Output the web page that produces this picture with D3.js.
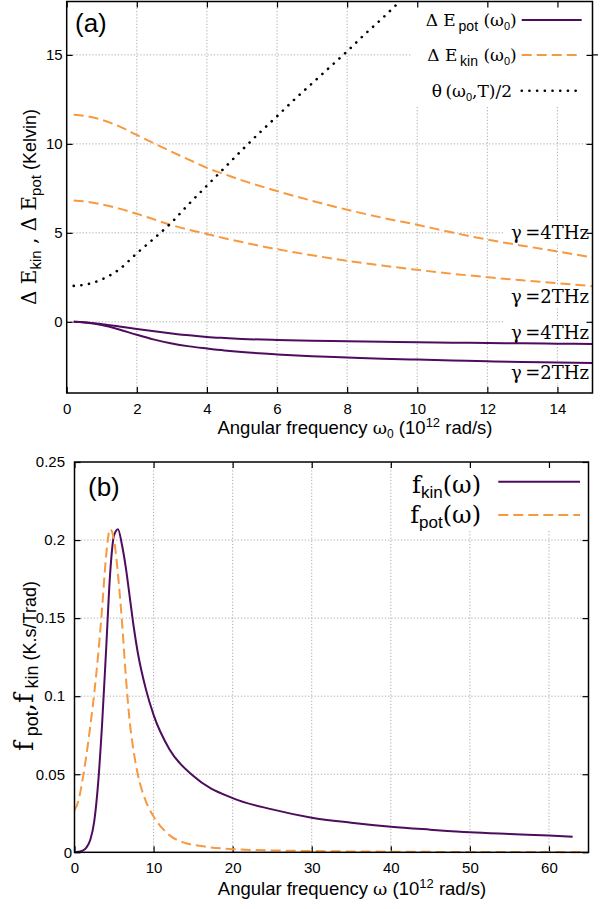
<!DOCTYPE html>
<html><head><meta charset="utf-8">
<script src="https://cdn.jsdelivr.net/npm/d3@7"></script>
<style>body{margin:0;background:#fff}svg{display:block}</style>
</head><body>
<svg id="c" width="608" height="909"></svg>
<script>
// ---------- DATA ----------
// Panel (a)
const omega0 = [0.2,0.5,1,1.5,2,2.5,3,3.5,4,4.5,5,6,7,8,9,10,11,12,13,14,15];
const dEkin4 = [11.63,11.58,11.35,10.98,10.5,10.02,9.55,9.1,8.65,8.3,7.95,7.35,6.8,6.3,5.85,5.45,5.02,4.62,4.28,3.95,3.62];
const dEkin2 = [6.82,6.77,6.6,6.36,6.07,5.75,5.43,5.17,4.94,4.7,4.48,4.08,3.74,3.43,3.16,2.92,2.7,2.51,2.33,2.17,2.0];
const dEpot4 = [0,-0.03,-0.13,-0.26,-0.4,-0.53,-0.65,-0.76,-0.85,-0.91,-0.96,-1.02,-1.06,-1.09,-1.12,-1.15,-1.17,-1.19,-1.21,-1.23,-1.24];
const dEpot2 = [0,-0.04,-0.18,-0.43,-0.73,-1.0,-1.22,-1.38,-1.5,-1.61,-1.7,-1.83,-1.93,-2.0,-2.07,-2.12,-2.17,-2.22,-2.26,-2.29,-2.32];
const thetaX = [0.2,0.5,1,1.5,2,2.5,3,3.5,4,4.5,5,5.5,6,6.5,7,7.5,8,8.5,9,9.5];
const thetaY = [2.02,2.08,2.38,2.95,3.85,4.7,5.6,6.65,7.65,8.65,9.65,10.62,11.55,12.5,13.4,14.3,15.2,16.15,17.05,18.0];
const xTicksA = [0,2,4,6,8,10,12,14];
const yTicksA = [0,5,10,15];
// Panel (b)
const fkinX = [0,0.5,1,1.5,2,2.5,3,3.5,4,4.5,5,5.5,6,6.5,7,7.5,8,9,10,12,15,20,25,30,35,40,45,50,55,60,63];
const fkinY = [0,0.0003,0.001,0.003,0.008,0.02,0.045,0.083,0.13,0.178,0.203,0.207,0.197,0.182,0.163,0.144,0.128,0.105,0.088,0.066,0.049,0.0347,0.0275,0.0222,0.019,0.0164,0.0145,0.0128,0.0117,0.0107,0.0100];
const fpotX = [0,0.5,1,1.5,2,2.5,3,3.5,4,4.5,5,5.5,6,6.5,7,7.5,8,9,10,11,12,14,16,20,25,30,40,50,64.5];
const fpotY = [0.027,0.033,0.046,0.062,0.081,0.102,0.127,0.157,0.19,0.207,0.2,0.178,0.148,0.112,0.083,0.064,0.05,0.033,0.023,0.016,0.011,0.006,0.004,0.002,0.0012,0.0008,0.0004,0.0002,0.0001];
const xTicksB = [0,10,20,30,40,50,60];
const yTicksB = [0,0.05,0.1,0.15,0.2,0.25];

// ---------- STYLE ----------
const SANS = "'Liberation Sans', Arial, Helvetica, sans-serif";
const SERIF = "'DejaVu Serif', serif";
const PURPLE = "#4d0c5e", ORANGE = "#f7993f";
const GRID = "#a0a0a0";
const svg = d3.select('#c');

function rich(g, x, y, parts, anchor, transform) {
  const t = g.append('text').attr('x', x).attr('y', y)
    .attr('text-anchor', anchor || 'start').attr('fill', '#000');
  if (transform) t.attr('transform', transform);
  let prev = 0;
  parts.forEach(p => {
    const [txt, fam, size, shift] = p;
    const s = shift || 0;
    t.append('tspan').attr('font-family', fam).attr('font-size', size)
      .attr('dy', s - prev).text(txt);
    prev = s;
  });
  return t;
}

function panel(o) {
  const g = svg.append('g');
  const x = o.x, y = o.y;
  const [x0, x1] = x.range(), [y0, y1] = y.range();
  const gg = g.append('g').attr('stroke', GRID).attr('stroke-width', 0.9).attr('stroke-dasharray', '1.2,2');
  o.xt.filter(v => x(v) > x0 + 1 && x(v) < x1 - 1).forEach(v =>
    gg.append('line').attr('x1', x(v)).attr('x2', x(v)).attr('y1', y0).attr('y2', y1));
  o.yt.filter(v => y(v) < y0 - 1 && y(v) > y1 + 1).forEach(v =>
    gg.append('line').attr('x1', x0).attr('x2', x1).attr('y1', y(v)).attr('y2', y(v)));
  (o.boxes || []).forEach(b => g.append('rect').attr('x', b[0]).attr('y', b[1])
    .attr('width', b[2] - b[0]).attr('height', b[3] - b[1]).attr('fill', '#fff'));
  const fmt = o.fmt;
  const ax = g.append('g').attr('transform', `translate(0,${y0})`)
    .call(d3.axisBottom(x).tickValues(o.xt).tickSizeInner(-6).tickSizeOuter(0).tickPadding(o.xpad).tickFormat(fmt.x));
  const axT = g.append('g').attr('transform', `translate(0,${y1})`)
    .call(d3.axisTop(x).tickValues(o.xt).tickSizeInner(-6).tickSizeOuter(0).tickFormat(''));
  const ay = g.append('g').attr('transform', `translate(${x0},0)`)
    .call(d3.axisLeft(y).tickValues(o.yt).tickSizeInner(-6).tickSizeOuter(0).tickPadding(o.ypad).tickFormat(fmt.y));
  const ayR = g.append('g').attr('transform', `translate(${x1},0)`)
    .call(d3.axisRight(y).tickValues(o.yt).tickSizeInner(-6).tickSizeOuter(0).tickFormat(''));
  [ax, axT, ay, ayR].forEach(a => {
    a.select('.domain').remove();
    a.selectAll('line').attr('stroke', '#000').attr('stroke-width', 1.2);
    a.selectAll('text').attr('font-family', SANS).attr('font-size', 15).attr('fill', '#000');
  });
  if (o.afterAxes) o.afterAxes(ax, ay);
  const cg = g.append('g').attr('fill', 'none');
  o.series.forEach(s => {
    const line = d3.line().x((d, i) => x(s.xs[i])).y(d => y(d)).curve(d3.curveMonotoneX);
    cg.append('path').attr('d', line(s.ys)).attr('stroke', s.color).attr('stroke-width', s.w || 2)
      .attr('stroke-dasharray', s.dash || null).attr('stroke-linecap', s.cap || 'butt');
  });
  g.append('rect').attr('x', x0).attr('y', y1).attr('width', x1 - x0).attr('height', y0 - y1)
    .attr('fill', 'none').attr('stroke', '#000').attr('stroke-width', 1.5);
  return g;
}

// ---------- PANEL (a) ----------
const xa = d3.scaleLinear().domain([0, 15]).range([66.7, 592.5]);
const ya = d3.scaleLinear().domain([-4, 18]).range([393, 1.5]);
const ga = panel({
  x: xa, y: ya, xt: xTicksA, yt: yTicksA, xpad: 10.5, ypad: 4,
  fmt: { x: d3.format('d'), y: d3.format('d') },
  boxes: [[411, 2.2, 591.7, 105], [503, 221, 591.7, 244], [503, 285, 591.7, 307], [503, 321, 591.7, 342], [503, 362, 591.7, 383]],
  series: [
    { xs: omega0, ys: dEkin4, color: ORANGE, dash: '10,5' },
    { xs: omega0, ys: dEkin2, color: ORANGE, dash: '10,5' },
    { xs: omega0, ys: dEpot4, color: PURPLE },
    { xs: omega0, ys: dEpot2, color: PURPLE },
    { xs: thetaX, ys: thetaY, color: '#000', dash: '0.1,7.6', w: 2.6, cap: 'round' }
  ]
});
ga.append('line').attr('x1', 592.5).attr('x2', 598).attr('y1', ya(15)).attr('y2', ya(15)).attr('stroke', '#000').attr('stroke-width', 1.2);
ga.append('text').attr('x', 75).attr('y', 32).attr('font-family', SANS).attr('font-size', 26).text('(a)');
const legA = [
  { y: 20, tx: 516.7, parts: [['Δ', SERIF, 17], [' E', SERIF, 17], ['\u2009pot', SANS, 14, 4.5], [' (ω', SERIF, 17], ['0', SANS, 11, 4], [')', SERIF, 17]], color: PURPLE },
  { y: 55, tx: 516.7, parts: [['Δ', SERIF, 17], [' E', SERIF, 17], ['\u2009kin', SANS, 14, 4.5], [' (ω', SERIF, 17], ['0', SANS, 11, 4], [')', SERIF, 17]], color: ORANGE, dash: '10,5' },
  { y: 90.7, tx: 512, parts: [['θ', SERIF, 17], ['\u2009(ω', SERIF, 17], ['0', SANS, 11, 4], [',T)/2', SERIF, 17]], color: '#000', dash: '0.1,7.6', w: 2.6, cap: 'round' }
];
legA.forEach(l => {
  rich(ga, l.tx, l.y + 6, l.parts, 'end');
  ga.append('line').attr('x1', 521.7).attr('x2', 581.7).attr('y1', l.y).attr('y2', l.y)
    .attr('stroke', l.color).attr('stroke-width', l.w || 2).attr('stroke-dasharray', l.dash || null)
    .attr('stroke-linecap', l.cap || 'butt');
});
[[238.5, '4'], [302.5, '2'], [338.5, '4'], [379, '2']].forEach(d => {
  ga.append('text').attr('x', 589).attr('y', d[0]).attr('text-anchor', 'end')
    .attr('font-family', SERIF).attr('font-size', 18).text('γ\u2009=' + d[1] + 'THz');
});
rich(ga, 355, 434, [['Angular frequency  ', SANS, 18.5], ['ω', SERIF, 17.5], ['0', SANS, 12, 4], [' (10', SANS, 18.5, 0], ['12', SANS, 13, -7], [' rad/s)', SANS, 18.5, 0]], 'middle');
rich(ga, 0, 0, [['Δ', SERIF, 20], [' E', SERIF, 20], ['kin', SANS, 15, 5], [' ,  ', SERIF, 20, 0], ['Δ', SERIF, 20], [' E', SERIF, 20], ['pot', SANS, 15, 5], ['  (Kelvin)', SANS, 18, 0]], 'middle', 'translate(36,207) rotate(-90)');

// ---------- PANEL (b) ----------
const xb = d3.scaleLinear().domain([0, 65]).range([74.5, 588.5]);
const yb = d3.scaleLinear().domain([0, 0.25]).range([852.3, 462]);
const gb = panel({
  x: xb, y: yb, xt: xTicksB, yt: yTicksB, xpad: 10.5, ypad: 9.5,
  fmt: { x: d3.format('d'), y: v => (v === 0 ? '0' : String(+v.toFixed(2))) },
  boxes: [[394, 463, 587.7, 531]],
  afterAxes: (ax, ay) => { ay.selectAll('.tick text').filter(v => v === 0).attr('dx', 7); },
  series: [
    { xs: fkinX, ys: fkinY, color: PURPLE },
    { xs: fpotX, ys: fpotY, color: ORANGE, dash: '10,5' }
  ]
});
gb.append('text').attr('x', 88).attr('y', 496).attr('font-family', SANS).attr('font-size', 26).text('(b)');
const legB = [
  { y: 481.7, base: 493, parts: [['f', SERIF, 24], ['kin', SANS, 17, 4.5], ['(ω)', SERIF, 24, 0]], color: PURPLE },
  { y: 515, base: 523.3, parts: [['f', SERIF, 24], ['pot', SANS, 17, 4.5], ['(ω)', SERIF, 24, 0]], color: ORANGE, dash: '10,5' }
];
legB.forEach(l => {
  rich(gb, 481, l.base, l.parts, 'end');
  gb.append('line').attr('x1', 498.3).attr('x2', 580).attr('y1', l.y).attr('y2', l.y)
    .attr('stroke', l.color).attr('stroke-width', 2).attr('stroke-dasharray', l.dash || null);
});
rich(gb, 352, 895, [['Angular frequency ', SANS, 18.5], ['ω', SERIF, 17.5], [' (10', SANS, 18.5], ['12', SANS, 13, -7], [' rad/s)', SANS, 18.5, 0]], 'middle');
rich(gb, 0, 0, [['f', SERIF, 26], [' pot', SANS, 18, 5], [',', SERIF, 26, 0], ['f', SERIF, 26], [' kin', SANS, 18, 5], ['   (K.s/Trad)', SANS, 18, 3]], 'middle', 'translate(33,666) rotate(-90)');
</script>
</body></html>
